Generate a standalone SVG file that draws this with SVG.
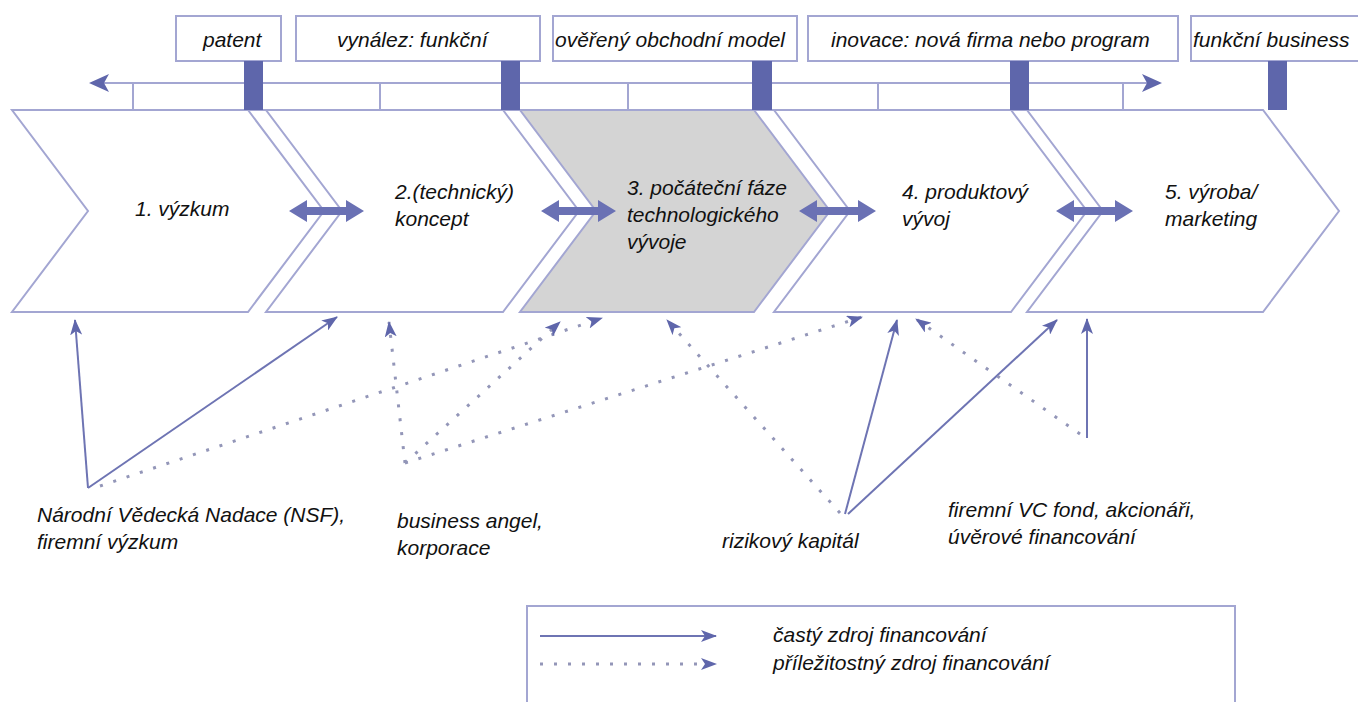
<svg xmlns="http://www.w3.org/2000/svg" width="1358" height="702" viewBox="0 0 1358 702">
<style>
  .t { font-family: "Liberation Sans", Arial, sans-serif; font-style: italic; font-size: 21px; fill: #111; }
  .ln { stroke: #a3a6d2; stroke-width: 2; fill: none; }
  .box { stroke: #a3a6d2; stroke-width: 2; fill: #fff; }
  .chev { stroke: #a3a6d2; stroke-width: 2; fill: #fff; }
  .chev.grey { fill: #d4d4d4; }
  .bar { fill: #5e66ab; }
  .dbl { fill: #6a71b4; }
  .solid { stroke: #6e74b3; stroke-width: 2; fill: none; }
  .dot { stroke: #9396b8; stroke-width: 3; fill: none; stroke-dasharray: 3 11; }
  .head { fill: #5f66ab; }
</style>
<defs>
  <marker id="ah" viewBox="0 0 16 12" refX="15" refY="6" markerWidth="16" markerHeight="12" orient="auto" markerUnits="userSpaceOnUse">
    <path d="M0,0 L16,6 L0,12 L4,6 z" class="head"/>
  </marker>
</defs>
<rect width="1358" height="702" fill="#fff"/>

<!-- stages -->
<g id="stage1"><polygon class="chev" points="12,110 248,110 324,211 248,312 12,312 88,211"/>
  <text class="t" x="135" y="216">1. výzkum</text></g>
<g id="stage2"><polygon class="chev" points="266,110 503,110 579,211 503,312 266,312 342,211"/>
  <text class="t" x="395" y="199">2.(technický)</text><text class="t" x="395" y="226">koncept</text></g>
<g id="stage3"><polygon class="chev grey" points="520,110 754,110 830,211 754,312 520,312 596,211"/>
  <text class="t" x="627" y="195">3. počáteční fáze</text><text class="t" x="627" y="222">technologického</text><text class="t" x="627" y="249">vývoje</text></g>
<g id="stage4"><polygon class="chev" points="774,110 1011,110 1087,211 1011,312 774,312 850,211"/>
  <text class="t" x="902" y="199">4. produktový</text><text class="t" x="902" y="226">vývoj</text></g>
<g id="stage5"><polygon class="chev" points="1027,110 1263,110 1339,211 1263,312 1027,312 1103,211"/>
  <text class="t" x="1165" y="199">5. výroba/</text><text class="t" x="1165" y="226">marketing</text></g>

<!-- double arrows between stages -->
<g id="stage-links">
  <polygon class="dbl" points="289,211 307,200 307,207 346,207 346,200 364,211 346,222 346,215 307,215 307,222"/>
  <polygon class="dbl" points="541,211 559,200 559,207 598,207 598,200 616,211 598,222 598,215 559,215 559,222"/>
  <polygon class="dbl" points="799,211 817,200 817,207 858,207 858,200 876,211 858,222 858,215 817,215 817,222"/>
  <polygon class="dbl" points="1056,211 1074,200 1074,207 1115,207 1115,200 1133,211 1115,222 1115,215 1074,215 1074,222"/>
</g>

<!-- timeline -->
<g id="timeline">
  <line class="ln" x1="104" y1="83" x2="1150" y2="83"/>
  <line class="ln" x1="12" y1="110" x2="1263" y2="110"/>
  <line class="ln" x1="133" y1="83" x2="133" y2="110"/>
  <line class="ln" x1="380" y1="83" x2="380" y2="110"/>
  <line class="ln" x1="628" y1="83" x2="628" y2="110"/>
  <line class="ln" x1="878" y1="83" x2="878" y2="110"/>
  <line class="ln" x1="1123" y1="83" x2="1123" y2="110"/>
  <polygon class="head" points="89,83 109,74 104,83 109,92"/>
  <polygon class="head" points="1162,83 1142,74 1147,83 1142,92"/>
</g>

<!-- milestones -->
<g id="m-patent"><rect class="box" x="176" y="16" width="105" height="45"/><rect class="bar" x="244" y="61" width="19" height="49"/>
  <text class="t" x="203" y="47">patent</text></g>
<g id="m-vynalez"><rect class="box" x="296" y="16" width="244" height="45"/><rect class="bar" x="501" y="61" width="19" height="49"/>
  <text class="t" x="337" y="47">vynález: funkční</text></g>
<g id="m-model"><rect class="box" x="553" y="16" width="244" height="45"/><rect class="bar" x="752" y="61" width="20" height="49"/>
  <text class="t" x="555" y="47">ověřený obchodní model</text></g>
<g id="m-inovace"><rect class="box" x="808" y="16" width="370" height="45"/><rect class="bar" x="1010" y="61" width="19" height="49"/>
  <text class="t" x="831" y="47">inovace: nová firma nebo program</text></g>
<g id="m-business"><rect class="box" x="1191" y="16" width="172" height="45"/><rect class="bar" x="1268" y="61" width="19" height="49"/>
  <text class="t" x="1193" y="47">funkční business</text></g>

<!-- funding sources -->
<g id="src-nsf"><text class="t" x="37" y="522">Národní Vědecká Nadace (NSF),</text><text class="t" x="37" y="549">firemní výzkum</text></g>
<g id="src-angel"><text class="t" x="397" y="528">business angel,</text><text class="t" x="397" y="555">korporace</text></g>
<g id="src-vc"><text class="t" x="722" y="548">rizikový kapitál</text></g>
<g id="src-corp"><text class="t" x="948" y="517">firemní VC fond, akcionáři,</text><text class="t" x="948" y="544">úvěrové financování</text></g>

<!-- connectors -->
<g id="connectors">
  <line class="solid" x1="88" y1="488" x2="75" y2="320" marker-end="url(#ah)"/>
  <line class="solid" x1="88" y1="488" x2="337" y2="317" marker-end="url(#ah)"/>
  <line class="dot" x1="100" y1="486" x2="602" y2="318" marker-end="url(#ah)"/>
  <line class="dot" x1="405" y1="463" x2="389" y2="322" marker-end="url(#ah)"/>
  <line class="dot" x1="405" y1="463" x2="560" y2="322" marker-end="url(#ah)"/>
  <line class="dot" x1="405" y1="463" x2="862" y2="317" marker-end="url(#ah)"/>
  <line class="dot" x1="840" y1="513" x2="667" y2="320" marker-end="url(#ah)"/>
  <line class="solid" x1="845" y1="514" x2="897" y2="320" marker-end="url(#ah)"/>
  <line class="solid" x1="848" y1="514" x2="1057" y2="320" marker-end="url(#ah)"/>
  <line class="dot" x1="1080" y1="434" x2="916" y2="319" marker-end="url(#ah)"/>
  <line class="solid" x1="1087" y1="438" x2="1087" y2="319" marker-end="url(#ah)"/>
</g>

<!-- legend -->
<g id="legend">
  <rect class="box" x="527" y="606" width="708" height="120"/>
  <line class="solid" x1="540" y1="636" x2="716" y2="636" marker-end="url(#ah)"/>
  <line class="dot" x1="540" y1="664" x2="716" y2="664" marker-end="url(#ah)"/>
  <text class="t" x="773" y="642">častý zdroj financování</text>
  <text class="t" x="773" y="670">příležitostný zdroj financování</text>
</g>
</svg>
